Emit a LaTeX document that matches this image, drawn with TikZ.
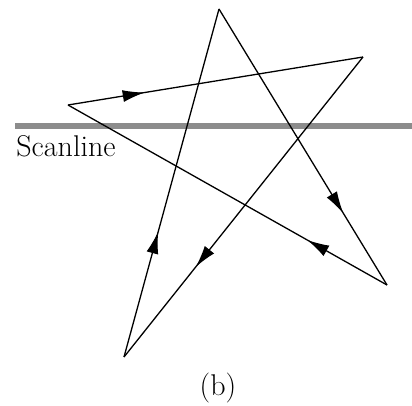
\documentclass[tikz,border=0pt]{standalone}
\usepackage{tikz}
\usetikzlibrary{arrows.meta,decorations.markings}

\begin{document}
\begin{tikzpicture}[
      x=0.5pt, y=-0.5pt,
      edge/.style={line width=0.65pt},
      flow/.style={decoration={markings,
                   mark=at position #1 with {\arrow{Latex[length=11pt,width=6pt]}}},
                   postaction={decorate}},
      scan/.style={line width=2.8pt, draw=black!45},
      lbl/.style={inner sep=0pt, font=\fontsize{15}{18}\selectfont},
    ]
    \useasboundingbox (0,0) rectangle (412,406);
    % star vertices
    \coordinate (top) at (219,9);
    \coordinate (rgt) at (363,57);
    \coordinate (lft) at (68,105);
    \coordinate (brt) at (387,285);
    \coordinate (bot) at (124,357);
    % scanline
    \coordinate (sla) at (15,126);
    \coordinate (slb) at (412,126);
    \draw[scan] (sla) -- (slb);
    \node[lbl, anchor=base west] (scanlbl) at (16,157) {Scanline};
    % edges of the polygon
    \draw[edge, flow=0.26] (lft) -- (rgt);
    \draw[edge, flow=0.70] (rgt) -- (bot);
    \draw[edge, flow=0.36] (bot) -- (top);
    \draw[edge, flow=0.74] (top) -- (brt);
    \draw[edge, flow=0.25] (brt) -- (lft);
    \node[lbl] (cap) at (218,388) {(b)};
  \end{tikzpicture}
\end{document}
